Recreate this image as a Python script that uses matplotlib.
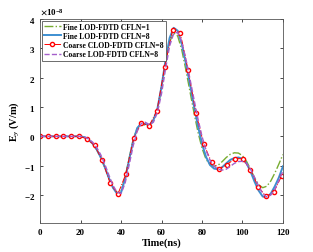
import numpy as np
import matplotlib
matplotlib.use("Agg")
import matplotlib.pyplot as plt

plt.rcParams['font.family'] = ['Liberation Serif', 'DejaVu Serif']
plt.rcParams['font.weight'] = 'bold'
plt.rcParams['mathtext.fontset'] = 'stix'
plt.rcParams['axes.unicode_minus'] = False

# time grid for the line curves (ns)
t = np.arange(0, 121, 2)

# Fine LOD-FDTD CFLN=1 (x1e-8 V/m)
fine_cfl1 = [0, 0, 0, 0, 0, 0, 0, 0, 0, 0, 0,
             -0.03, -0.12, -0.26, -0.46, -0.73, -1.06, -1.42, -1.74, -1.92, -1.88,
             -1.40, -0.75, -0.12, 0.28, 0.42, 0.38, 0.36, 0.52, 0.92, 1.62,
             2.50, 3.22, 3.52, 3.42, 2.95, 2.28, 1.55, 0.82, 0.15, -0.40,
             -0.78, -0.97, -1.02, -0.98, -0.86, -0.72, -0.61, -0.56, -0.57, -0.66,
             -0.85, -1.12, -1.42, -1.65, -1.75, -1.70, -1.52, -1.25, -0.94, -0.62]

# Fine LOD-FDTD CFLN=8
fine_cfl8 = [0, 0, 0, 0, 0, 0, 0, 0, 0, 0, 0,
             -0.03, -0.12, -0.25, -0.45, -0.72, -1.05, -1.42, -1.75, -1.95, -1.92,
             -1.45, -0.80, -0.15, 0.28, 0.45, 0.42, 0.38, 0.55, 0.95, 1.70,
             2.60, 3.35, 3.70, 3.60, 3.15, 2.50, 1.80, 1.05, 0.35, -0.25,
             -0.70, -0.98, -1.10, -1.12, -1.05, -0.92, -0.80, -0.74, -0.72, -0.76,
             -0.92, -1.20, -1.55, -1.85, -2.05, -2.08, -1.95, -1.70, -1.40, -1.02]

# Coarse LOD-FDTD CFLN=8
coarse_lod = [0, 0, 0, 0, 0, 0, 0, 0, 0, 0, 0,
              -0.02, -0.09, -0.20, -0.38, -0.63, -0.95, -1.32, -1.67, -1.90, -1.95,
              -1.60, -0.98, -0.32, 0.18, 0.44, 0.48, 0.40, 0.48, 0.82, 1.45,
              2.30, 3.08, 3.50, 3.55, 3.22, 2.65, 1.98, 1.28, 0.60, 0.00,
              -0.48, -0.82, -1.02, -1.12, -1.15, -1.12, -1.02, -0.92, -0.86, -0.85,
              -0.93, -1.12, -1.40, -1.70, -1.95, -2.07, -2.00, -1.80, -1.50, -1.18]

# Coarse CLOD-FDTD CFLN=8 (sampled points)
t_clod = np.arange(32) * 3.85
coarse_clod = [0, 0, 0, 0, 0, 0, -0.08, -0.31, -0.82, -1.60, -1.96, -1.29,
               -0.07, 0.46, 0.36, 0.87, 2.38, 3.62, 3.51, 2.25, 0.80, -0.26,
               -0.88, -1.10, -0.96, -0.76, -0.76, -1.14, -1.72, -2.05, -1.90, -1.35]

scale = 1e-8

fig = plt.figure(figsize=(3.13, 2.53), dpi=100)
ax = fig.add_axes([0.128, 0.115, 0.776, 0.806])

ax.plot(t, np.array(fine_cfl1) * scale, '-.', color='#77AC30', lw=1.0,
        label='Fine LOD-FDTD CFLN=1')
ax.plot(t, np.array(fine_cfl8) * scale, '-', color='#3D8FD1', lw=1.4,
        label='Fine LOD-FDTD CFLN=8')
ax.plot(t_clod, np.array(coarse_clod) * scale, '-.', color='red', lw=0.7,
        marker='o', ms=3.0, mfc='white', mec='red', mew=1.0,
        label='Coarse CLOD-FDTD CFLN=8')
ax.plot(t, np.array(coarse_lod) * scale, '--', color='#A45FCB', lw=1.0,
        label='Coarse LOD-FDTD CFLN=8')

ax.set_xlim(0, 120)
ax.set_ylim(-2.95e-8, 4e-8)
ax.set_xticks(np.arange(0, 121, 20))
ax.set_yticks(np.arange(-2, 5) * scale)
ax.ticklabel_format(axis='y', style='sci', scilimits=(-8, -8), useMathText=True)
ax.yaxis.get_offset_text().set_fontsize(6.5)
ax.tick_params(direction='in', labelsize=6.5, length=2.5, width=0.5, top=True, right=True)
for s in ax.spines.values():
    s.set_linewidth(0.6)
    s.set_color('#555555')

ax.set_xlabel('Time(ns)', fontsize=7.5, fontweight='bold', labelpad=1)
ax.set_ylabel(r'E$_y$ (V/m)', fontsize=7.5, fontweight='bold', labelpad=2)

leg = ax.legend(loc='upper left', fontsize=5.5, handlelength=2.2, handletextpad=0.3,
                borderpad=0.3, labelspacing=0.15, fancybox=False, framealpha=1,
                borderaxespad=0.2, numpoints=1)
leg.get_frame().set_edgecolor('#555555')
leg.get_frame().set_linewidth(0.6)

fig.savefig('out.png', dpi=100)
